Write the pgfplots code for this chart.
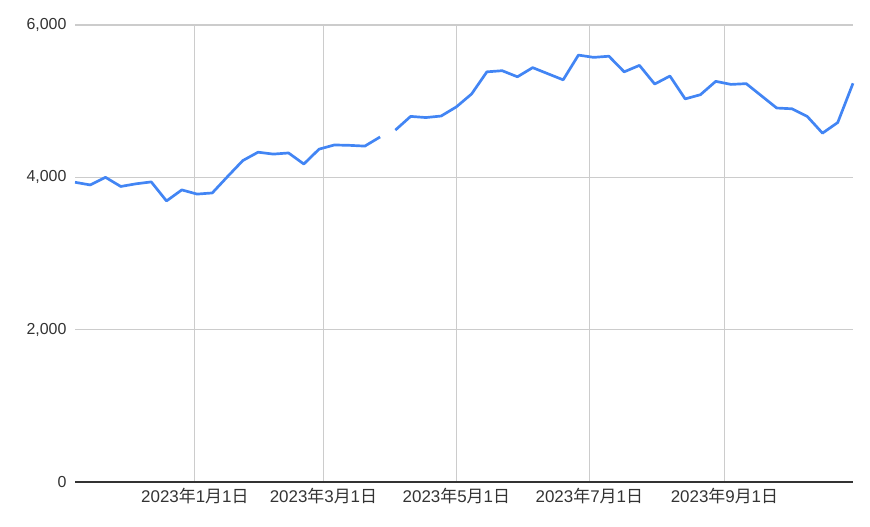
\documentclass[border=0pt]{standalone}
\usepackage{pgfplots}
\pgfplotsset{compat=1.18}
\usepackage{fontspec}
\setmainfont{Liberation Sans}
\newfontfamily\cjk{Noto Sans CJK JP}
\definecolor{gblue}{HTML}{4285F4}
\definecolor{gridc}{HTML}{CCCCCC}
\definecolor{axc}{HTML}{333333}
\definecolor{labc}{HTML}{333333}
\newcommand{\jd}[2]{2023{\cjk 年}#1{\cjk 月}#2{\cjk 日}}
\begin{document}
\begin{tikzpicture}
\path[use as bounding box] (-75bp,-45bp) rectangle (795bp,482bp);
\begin{axis}[
  scale only axis,
  width=778bp, height=457bp,
  xmin=-55, xmax=302,
  ymin=0, ymax=6000,
  axis line style={draw=none},
  xtick={0,59,120,181,243},
  xticklabels={\jd{1}{1},\jd{3}{1},\jd{5}{1},\jd{7}{1},\jd{9}{1}},
  ytick={0,2000,4000,6000},
  yticklabels={0,{2,000},{4,000},{6,000}},
  major tick length=0pt,
  grid=major,
  major grid style={draw=gridc, line width=1.1pt},
  tick label style={font=\fontsize{16}{19}\selectfont, text=labc},
  xticklabel style={yshift=-3bp, font=\fontsize{17}{20}\selectfont},
  yticklabel style={xshift=-5bp},
  unbounded coords=jump,
  clip=false,
]
\addplot[gblue, line width=2.7pt, line join=round] coordinates {
(-55,3935) (-48,3900) (-41,4000) (-34,3880) (-27,3915) (-20,3940) (-13,3690)
(-6,3835) (1,3780) (8,3795) (15,4010) (22,4220) (29,4330) (36,4305) (43,4320)
(50,4175) (57,4370) (64,4425) (71,4420) (78,4410) (85,4530)
(88.5,nan)
(92,4620) (99,4800) (106,4785) (113,4805) (120,4925) (127,5095) (134,5385)
(141,5400) (148,5320) (155,5440) (162,5360) (169,5280) (176,5605) (183,5575)
(190,5590) (197,5385) (204,5470) (211,5225) (218,5330) (225,5030) (232,5085)
(239,5260) (246,5220) (253,5230) (260,5070) (267,4910) (274,4900) (281,4800)
(288,4580) (295,4720) (302,5235)
};
\draw[axc, line width=1.6pt] (axis cs:-55,0) -- (axis cs:302,0);
\end{axis}
\end{tikzpicture}
\end{document}
